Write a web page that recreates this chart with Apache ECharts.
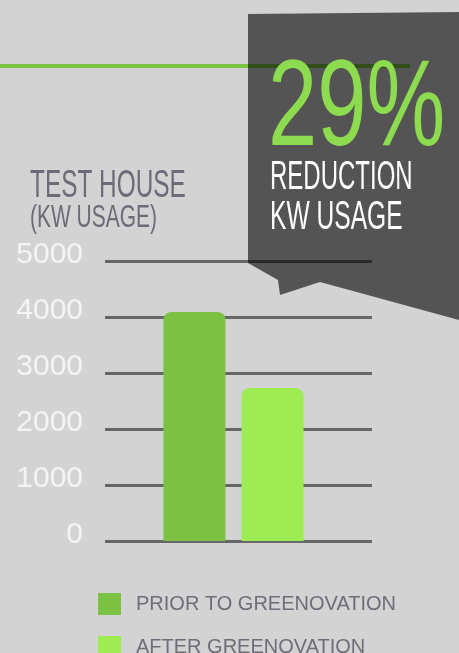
<!DOCTYPE html>
<html>
<head>
<meta charset="utf-8">
<script src="https://cdn.jsdelivr.net/npm/echarts@6/dist/echarts.min.js"></script>
<style>
  html, body { margin: 0; padding: 0; background: #d3d3d3; }
  #chart { width: 459px; height: 653px; }
</style>
</head>
<body>
<div id="chart"></div>
<script>
// ── data ──
const categories = ["TEST HOUSE"];
const seriesNames = ["PRIOR TO GREENOVATION", "AFTER GREENOVATION"];
const priorValues = [4090];
const afterValues = [2730];
const yTicks = [0, 1000, 2000, 3000, 4000, 5000];

const SANS = "Liberation Sans";
const GREEN_DARK = "#7cc242";
const GREEN_LIGHT = "#9dec52";
const TITLE_GRAY = "#6c6c78";

// ── condensed text helper (graphic text squeezed horizontally) ──
function squeezed(text, x, y, size, scaleX, color, z) {
  return {
    type: "text", x, y, scaleX, z: z || 110,
    style: { text, fill: color, font: `${size}px "${SANS}"`, textAlign: "left", textVerticalAlign: "middle" },
  };
}

// one legend block per series so the two rows sit where the reference has them
function legendRow(name, top) {
  return {
    left: 93, top, itemWidth: 23, itemHeight: 22, icon: "rect",
    textStyle: { color: "#6e6e7a", fontSize: 20, fontFamily: SANS, lineHeight: 22, padding: [0, 0, 0, 10] },
    data: [name],
  };
}

const yRange = { type: "value", min: yTicks[0], max: yTicks[yTicks.length - 1], interval: 1000 };
const hiddenAxis = { axisLine: { show: false }, axisTick: { show: false }, axisLabel: { show: false } };

const chart = echarts.init(document.getElementById("chart"), null, { renderer: "canvas" });
chart.setOption({
  backgroundColor: "#d3d3d3",
  animation: false,
  // grid 0: rules + tick labels; grid 1: bars (the pair sits a little left of the rules' centre)
  grid: [
    { left: 105, right: 87, top: 261, bottom: 112, containLabel: false },
    { left: 100, right: 92, top: 261, bottom: 112, containLabel: false },
  ],
  xAxis: [
    { type: "category", data: categories, gridIndex: 0, ...hiddenAxis },
    { type: "category", data: categories, gridIndex: 1, ...hiddenAxis },
  ],
  yAxis: [
    { ...yRange, gridIndex: 0,
      axisLine: { show: false }, axisTick: { show: false },
      axisLabel: {
        color: "#f4f4f4", fontSize: 30, fontFamily: SANS, margin: 22,
        formatter: (v) => String(v),
        verticalAlign: "bottom", lineHeight: 12,
      },
      splitLine: { lineStyle: { color: "#676767", width: 3 } } },
    { ...yRange, gridIndex: 1, ...hiddenAxis, splitLine: { show: false } },
  ],
  legend: [legendRow(seriesNames[0], 588), legendRow(seriesNames[1], 631)],
  series: [
    { name: seriesNames[0], type: "bar", xAxisIndex: 1, yAxisIndex: 1, data: priorValues,
      barWidth: 62, barGap: "26%",
      itemStyle: { color: GREEN_DARK, borderRadius: [8, 8, 0, 0] } },
    { name: seriesNames[1], type: "bar", xAxisIndex: 1, yAxisIndex: 1, data: afterValues,
      barWidth: 62,
      itemStyle: { color: GREEN_LIGHT, borderRadius: [8, 8, 0, 0] } },
  ],
  graphic: [
    { type: "line", z: 50, shape: { x1: 0, y1: 66, x2: 410, y2: 66 },
      style: { stroke: GREEN_DARK, lineWidth: 4 } },
    // ponytail: translucent banner darkens the green rule + top grid line below it
    { type: "polygon", z: 100,
      shape: { points: [[248, 14], [459, 12], [459, 320], [320, 282], [280, 295], [278, 280], [248, 263]] },
      style: { fill: "rgba(0,0,0,0.6)" } },
    squeezed("29%", 268, 111, 123, 0.72, "#8ddb4e"),
    squeezed("REDUCTION", 270, 178, 40, 0.6, "#ffffff"),
    squeezed("KW USAGE", 270, 218, 40, 0.615, "#ffffff"),
    squeezed("TEST HOUSE", 30, 186, 39, 0.625, TITLE_GRAY),
    squeezed("(KW USAGE)", 30, 218, 32, 0.655, TITLE_GRAY),
  ],
});
</script>
</body>
</html>
